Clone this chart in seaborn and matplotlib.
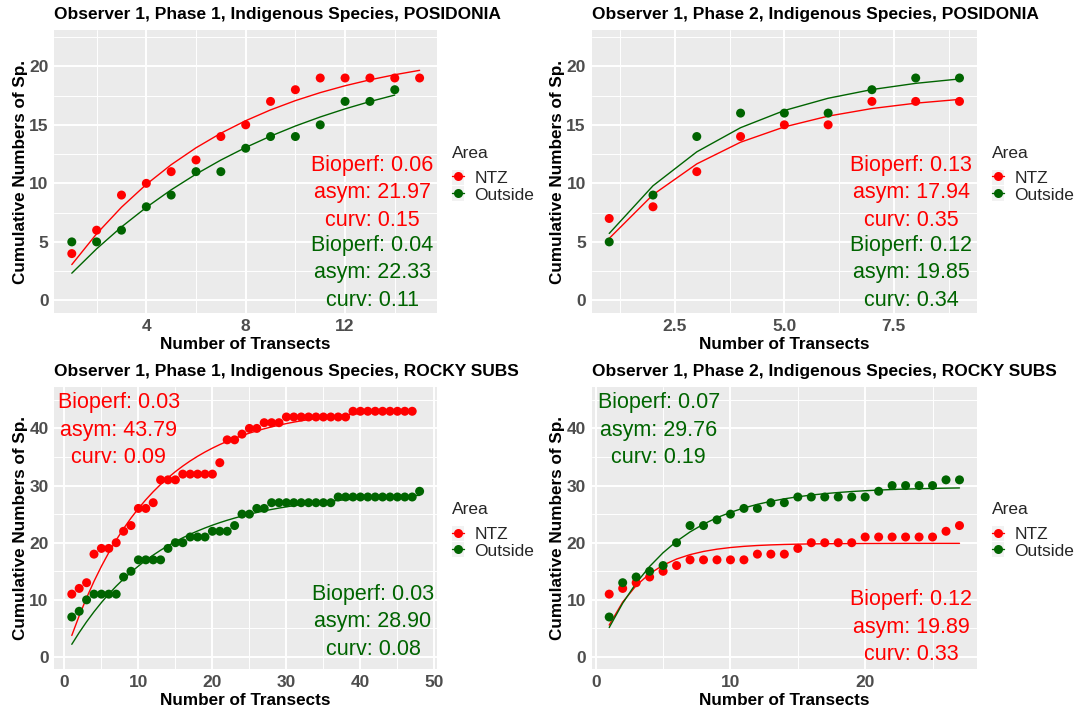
import numpy as np
import pandas as pd
import matplotlib
matplotlib.use("Agg")
import matplotlib.pyplot as plt
from matplotlib.ticker import FixedLocator, FormatStrFormatter
from matplotlib.lines import Line2D
from matplotlib.patches import Rectangle
import seaborn as sns

# ---------------- data ----------------
areas = ["NTZ", "Outside"]
area_colors = {"NTZ": "#FF0000", "Outside": "#006400"}

# Observer 1, Phase 1, POSIDONIA
pos1_ntz = [4, 6, 9, 10, 11, 12, 14, 15, 17, 18, 19, 19, 19, 19, 19]
pos1_out = [5, 5, 6, 8, 9, 11, 11, 13, 14, 14, 15, 17, 17, 18]
pos1_bioperf = [0.06, 0.04]
pos1_asym = [21.97, 22.33]
pos1_curv = [0.15, 0.11]

# Observer 1, Phase 2, POSIDONIA
pos2_ntz = [7, 8, 11, 14, 15, 15, 17, 17, 17]
pos2_out = [5, 9, 14, 16, 16, 16, 18, 19, 19]
pos2_bioperf = [0.13, 0.12]
pos2_asym = [17.94, 19.85]
pos2_curv = [0.35, 0.34]

# Observer 1, Phase 1, ROCKY SUBS
rock1_ntz = [11, 12, 13, 18, 19, 19, 20, 22, 23, 26, 26, 27, 31, 31, 31, 32,
             32, 32, 32, 32, 34, 38, 38, 39, 40, 40, 41, 41, 41, 42, 42, 42,
             42, 42, 42, 42, 42, 42, 43, 43, 43, 43, 43, 43, 43, 43, 43]
rock1_out = [7, 8, 10, 11, 11, 11, 11, 14, 15, 17, 17, 17, 17, 19, 20, 20,
             21, 21, 21, 22, 22, 22, 23, 25, 25, 26, 26, 27, 27, 27, 27, 27,
             27, 27, 27, 27, 28, 28, 28, 28, 28, 28, 28, 28, 28, 28, 28, 29]
rock1_bioperf = [0.03, 0.03]
rock1_asym = [43.79, 28.90]
rock1_curv = [0.09, 0.08]

# Observer 1, Phase 2, ROCKY SUBS
rock2_ntz = [11, 12, 13, 14, 15, 16, 17, 17, 17, 17, 17, 18, 18, 18, 19, 20,
             20, 20, 20, 21, 21, 21, 21, 21, 21, 22, 23]
rock2_out = [7, 13, 14, 15, 16, 20, 23, 23, 24, 25, 26, 26, 27, 27, 28, 28,
             28, 28, 28, 28, 29, 30, 30, 30, 30, 31, 31]
rock2_bioperf = [0.12, 0.07]
rock2_asym = [19.89, 29.76]
rock2_curv = [0.33, 0.19]

titles = [
    "Observer 1, Phase 1, Indigenous Species, POSIDONIA",
    "Observer 1, Phase 2, Indigenous Species, POSIDONIA",
    "Observer 1, Phase 1, Indigenous Species, ROCKY SUBS",
    "Observer 1, Phase 2, Indigenous Species, ROCKY SUBS",
]

# ---------------- style ----------------
sns.set_style("darkgrid", {"axes.facecolor": "#EBEBEB", "grid.color": "white"})
plt.rcParams["font.family"] = ["Liberation Sans", "DejaVu Sans"]

TICK_GRAY = "#4D4D4D"


def build_frames(ntz, out, asym, curv):
    rows = []
    fits = []
    for area, vals, a, c in zip(areas, [ntz, out], asym, curv):
        x = np.arange(1, len(vals) + 1)
        rows.append(pd.DataFrame({"Transects": x, "Species": vals, "Area": area}))
        fits.append(pd.DataFrame({"Transects": x,
                                  "Fit": a * (1 - np.exp(-c * x)),
                                  "Area": area}))
    return pd.concat(rows, ignore_index=True), pd.concat(fits, ignore_index=True)


panels = [
    dict(ntz=pos1_ntz, out=pos1_out, bio=pos1_bioperf, asym=pos1_asym, curv=pos1_curv,
         rect=[54.4, 30.0, 437.0, 313.3], xlim=(0.3, 15.7), ylim=(-1.1, 23.1),
         xmaj=[4, 8, 12], xmin=[2, 6, 10, 14], xfmt="%d",
         ymaj=[0, 5, 10, 15, 20], ymin=[2.5, 7.5, 12.5, 17.5, 22.5],
         blocks=[(13.1, 9.2, "NTZ"), (13.1, 2.36, "Outside")]),
    dict(ntz=pos2_ntz, out=pos2_out, bio=pos2_bioperf, asym=pos2_asym, curv=pos2_curv,
         rect=[591.7, 30.0, 977.0, 313.3], xlim=(0.6, 9.4), ylim=(-1.1, 23.1),
         xmaj=[2.5, 5.0, 7.5], xmin=[1.25, 3.75, 6.25, 8.75], xfmt="%.1f",
         ymaj=[0, 5, 10, 15, 20], ymin=[2.5, 7.5, 12.5, 17.5, 22.5],
         blocks=[(7.9, 9.2, "NTZ"), (7.9, 2.36, "Outside")]),
    dict(ntz=rock1_ntz, out=rock1_out, bio=rock1_bioperf, asym=rock1_asym, curv=rock1_curv,
         rect=[54.4, 386.7, 437.0, 669.0], xlim=(-1.35, 50.35), ylim=(-2.1, 47.3),
         xmaj=[0, 10, 20, 30, 40, 50], xmin=[5, 15, 25, 35, 45], xfmt="%d",
         ymaj=[0, 10, 20, 30, 40], ymin=[5, 15, 25, 35, 45],
         blocks=[(7.33, 39.7, "NTZ"), (41.7, 6.2, "Outside")]),
    dict(ntz=rock2_ntz, out=rock2_out, bio=rock2_bioperf, asym=rock2_asym, curv=rock2_curv,
         rect=[591.7, 386.7, 977.0, 669.0], xlim=(-0.3, 28.3), ylim=(-2.1, 47.3),
         xmaj=[0, 10, 20], xmin=[5, 15, 25], xfmt="%d",
         ymaj=[0, 10, 20, 30, 40], ymin=[5, 15, 25, 35, 45],
         blocks=[(23.43, 5.17, "NTZ"), (4.67, 39.7, "Outside")]),
]

W, H = 1075, 711
fig = plt.figure(figsize=(W / 100, H / 100), dpi=100)
fig.patch.set_facecolor("white")

line_step = 27.5 * 72 / 100  # points between stacked annotation lines

for title, p in zip(titles, panels):
    x0, y0, x1, y1 = p["rect"]
    ax = fig.add_axes([x0 / W, 1 - y1 / H, (x1 - x0) / W, (y1 - y0) / H])
    pts, fit = build_frames(p["ntz"], p["out"], p["asym"], p["curv"])

    sns.lineplot(data=fit, x="Transects", y="Fit", hue="Area", hue_order=areas,
                 palette=area_colors, linewidth=1.0, legend=False, ax=ax, zorder=2)
    sns.scatterplot(data=pts, x="Transects", y="Species", hue="Area", hue_order=areas,
                    palette=area_colors, s=42, linewidth=0, legend=False, ax=ax, zorder=3)

    ax.set_xlim(*p["xlim"])
    ax.set_ylim(*p["ylim"])
    ax.xaxis.set_major_locator(FixedLocator(p["xmaj"]))
    ax.xaxis.set_minor_locator(FixedLocator(p["xmin"]))
    ax.xaxis.set_major_formatter(FormatStrFormatter(p["xfmt"]))
    ax.yaxis.set_major_locator(FixedLocator(p["ymaj"]))
    ax.yaxis.set_minor_locator(FixedLocator(p["ymin"]))
    ax.grid(which="major", color="white", linewidth=1.4)
    ax.grid(which="minor", color="white", linewidth=0.7)
    ax.set_axisbelow(True)
    for s in ax.spines.values():
        s.set_visible(False)
    ax.tick_params(which="major", length=2.7, width=0.8, color="#333333",
                   labelsize=12.5, labelcolor=TICK_GRAY, pad=1.5)
    ax.tick_params(which="minor", length=0)
    for lab in ax.get_xticklabels() + ax.get_yticklabels():
        lab.set_fontweight("bold")

    ax.set_xlabel("Number of Transects", fontsize=12.3, fontweight="bold", color="black")
    ax.set_ylabel("Cumulative Numbers of Sp.", fontsize=12.3, fontweight="bold", color="black")
    wpx, hpx = x1 - x0, y1 - y0
    ax.xaxis.set_label_coords(0.5, -31.5 / hpx)
    ax.xaxis.label.set_va("center")
    ax.yaxis.set_label_coords(-(x0 - 20.7 if x0 < 300 else x0 - 557.5) / wpx, 0.5)
    ax.yaxis.label.set_va("center")

    ax.annotate(title, xy=(0, 1), xycoords="axes fraction", xytext=(0, 15 * 0.72),
                textcoords="offset points", ha="left", va="center",
                fontsize=12.5, fontweight="bold", color="black")

    # Bioperf / asym / curv labels for each area
    for cx, cy, area in p["blocks"]:
        i = areas.index(area)
        lines = [f"Bioperf: {p['bio'][i]:.2f}", f"asym: {p['asym'][i]:.2f}",
                 f"curv: {p['curv'][i]:.2f}"]
        for k, txt in enumerate(lines):
            ax.annotate(txt, xy=(cx, cy), xycoords="data",
                        xytext=(0, (1 - k) * line_step), textcoords="offset points",
                        ha="center", va="center", fontsize=15.5,
                        color=area_colors[area], zorder=4)

    # legend with grey key boxes
    handles = []
    for area in areas:
        box = Rectangle((0, 0), 1, 1, facecolor="#F2F2F2", edgecolor="none")
        mk = Line2D([], [], color=area_colors[area], marker="o", markersize=6.5,
                    linewidth=1.0, markeredgewidth=0)
        handles.append((box, mk))
    leg = ax.legend(handles, areas, title="Area", loc="center left",
                    bbox_to_anchor=(1 + 14.7 / wpx, 0.491), frameon=False,
                    fontsize=12.5, title_fontsize=12.5, borderpad=0,
                    borderaxespad=0, handlelength=0.7, handleheight=0.95,
                    handletextpad=0.6, labelspacing=0.0)
    leg._legend_box.align = "left"
    leg._legend_box.sep = 6.5

fig.savefig("out.png", dpi=100, facecolor="white")
